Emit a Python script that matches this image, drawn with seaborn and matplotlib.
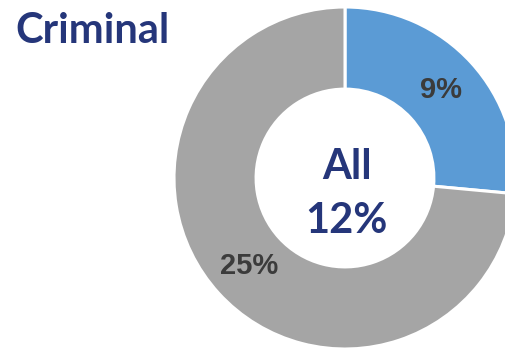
import matplotlib
matplotlib.use("Agg")
import matplotlib.pyplot as plt
import numpy as np
import seaborn as sns

# Share of criminal cases, by group
segments = ["Group A", "Group B"]
values = [9, 25]
overall_label = "All"
overall_value = 12
title = "Criminal"

colors = ["#5B9BD5", "#A5A5A5"]
navy = "#25367A"
label_gray = "#3B3B3B"

sns.set_theme(style="white")
plt.rcParams["font.family"] = ["Lato", "DejaVu Sans"]

W, H = 506, 351
fig = plt.figure(figsize=(W / 100, H / 100), dpi=100)
ax = fig.add_axes([0, 0, 1, 1])

wedges, _ = ax.pie(
    values,
    colors=colors,
    startangle=90,
    counterclock=False,
    radius=1.0,
    wedgeprops=dict(width=0.48, edgecolor="white", linewidth=2.2),
)

# Pixel layout: donut centre and radius (set after pie, which resets limits)
cx, cy, R = 345, 178, 171
ax.set_aspect("auto")
ax.set_xlim(-cx / R, (W - cx) / R)
ax.set_ylim(-(H - cy) / R, cy / R)
ax.axis("off")

# Value labels at the middle of each ring segment
for w, v in zip(wedges, values):
    ang = np.deg2rad((w.theta1 + w.theta2) / 2)
    r = 0.76
    ax.text(r * np.cos(ang), r * np.sin(ang), f"{v}%",
            ha="center", va="center", fontsize=21, fontweight="bold",
            color=label_gray, family=["Liberation Sans", "DejaVu Sans"])

ax.text(0.01, (cy - 167) / R, overall_label, ha="center", va="center",
        fontsize=30, fontweight="bold", color=navy)
ax.text(0.01, (cy - 221) / R, f"{overall_value}%", ha="center", va="center",
        fontsize=30, fontweight="bold", color=navy)

fig.text(15 / W, 1 - 43 / H, title, ha="left", va="baseline",
         fontsize=30, fontweight="bold", color=navy)

fig.savefig("out.png", dpi=100, facecolor="white")
